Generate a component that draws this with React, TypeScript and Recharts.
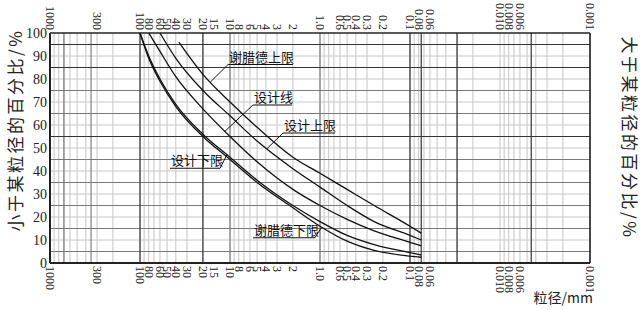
import React from 'react';
import { LineChart, Line, XAxis, YAxis, ReferenceLine, ReferenceDot } from 'recharts';

// grain size ticks (mm), top and bottom axes
const SIZE_TICKS = [1000, 300, 100, 80, 60, 50, 40, 30, 20, 15, 10, 8, 6, 5, 4, 3, 2, 1, 0.6, 0.5, 0.4, 0.3, 0.2, 0.1, 0.08, 0.06, 0.01, 0.008, 0.006, 0.001];
const SIZE_LABELS = ['1000', '300', '100', '80', '60', '50', '40', '30', '20', '15', '10', '8', '6', '5', '4', '3', '2', '1.0', '0.6', '0.5', '0.4', '0.3', '0.2', '0.1', '0.08', '0.06', '0.010', '0.008', '0.006', '0.001'];
const PCT_TICKS = [0, 10, 20, 30, 40, 50, 60, 70, 80, 90, 100];

// grading curves: sieve size (mm) / percent passing
const SHERARD_UPPER_SIZE = [37, 20, 10, 5, 2, 1, 0.5, 0.25, 0.1, 0.075];
const SHERARD_UPPER_PCT = [96, 82, 70, 59, 46, 39, 32, 25, 16, 13];
const DESIGN_UPPER_SIZE = [60, 40, 20, 10, 5, 2, 1, 0.5, 0.25, 0.1, 0.075];
const DESIGN_UPPER_PCT = [100, 89, 75, 64, 53, 41, 33, 25, 18, 12, 10];
const DESIGN_SIZE = [80, 60, 40, 20, 10, 5, 2, 1, 0.5, 0.25, 0.1, 0.075];
const DESIGN_PCT = [100, 92, 81, 67, 55, 44, 32, 25, 19, 14, 9, 7.5];
const DESIGN_LOWER_SIZE = [100, 80, 60, 40, 20, 10, 5, 2, 1, 0.5, 0.25, 0.1, 0.075];
const DESIGN_LOWER_PCT = [100, 90, 80, 69, 56, 46, 36, 25, 18, 12, 8, 4.5, 3.5];
const SHERARD_LOWER_SIZE = [100, 80, 60, 40, 20, 10, 5, 2, 1, 0.5, 0.25, 0.1, 0.075];
const SHERARD_LOWER_PCT = [100, 89, 79, 68, 55, 45, 35, 24, 16, 9.5, 5.5, 3, 2.5];

// callouts: underline (size from -> to at pct), leader to a point on the curve
const NOTE_TEXT = ['谢腊德上限', '设计线', '设计上限', '设计下限', '谢腊德下限'];
const NOTE_FROM = [10.5, 5.55, 2.58, 46.4, 5.55];
const NOTE_TO = [2.0, 2.05, 0.68, 12.9, 1.137];
const NOTE_PCT = [86.3, 68.7, 56.5, 41.2, 11.0];
const NOTE_LEADER_AT_END = [false, false, false, true, true];
const LEADER_SIZE = [16.5, 11.37, 3.88, 10.8, 0.957];
const LEADER_PCT = [78.7, 57.3, 49.7, 47.1, 15.6];

// grid
const DECADES = [100, 10, 1, 0.1, 0.01, 0.001];
const MULTS = [1, 2, 3, 4, 5, 6, 7, 8, 9];
const V_MINOR = DECADES.flatMap((d) => MULTS.map((m) => +(d * m).toPrecision(3))).filter((v) => v <= 1000);
const V_MID = [700, 350, 10, 1];
const V_DARK = [100, 20, 0.1, 0.075, 0.03, 0.0045];
const H_LIGHT = [10, 20, 30, 40, 50, 60, 70, 80, 90];
const H_MID = [5, 15, 25, 35, 45, 65, 75];
const H_DARK = [55, 85, 95];

const W = 642;
const H = 310;
const LEFT = 50;
const RIGHT = 590;
const TOP = 33;
const BOTTOM = 263;
const AX = 20; // room given to each axis
const SERIF = '"Liberation Serif", "Noto Sans CJK SC", serif';
const CJK = '"Noto Sans CJK SC", "Liberation Serif", serif';

const rows = (s: number[], p: number[]) => s.map((d, i) => ({ d, p: p[i] }));

const CURVES = [
  rows(SHERARD_UPPER_SIZE, SHERARD_UPPER_PCT),
  rows(DESIGN_UPPER_SIZE, DESIGN_UPPER_PCT),
  rows(DESIGN_SIZE, DESIGN_PCT),
  rows(DESIGN_LOWER_SIZE, DESIGN_LOWER_PCT),
  rows(SHERARD_LOWER_SIZE, SHERARD_LOWER_PCT),
];

const sizeLabel = (v: number) => {
  const i = SIZE_TICKS.findIndex((t) => Math.abs(t - v) < t * 1e-6);
  return i >= 0 ? SIZE_LABELS[i] : String(v);
};

const renderTopTick = (p: any) => (
  <text key={`tt${p.index}`} transform={`translate(${p.x},${TOP - 3}) rotate(90)`} textAnchor="end" dominantBaseline="central"
    fontFamily={SERIF} fontSize={12} fill="#222">{sizeLabel(p.payload.value)}</text>
);
const renderBottomTick = (p: any) => (
  <text key={`bt${p.index}`} transform={`translate(${p.x},${BOTTOM + 3}) rotate(90)`} textAnchor="start" dominantBaseline="central"
    fontFamily={SERIF} fontSize={12} fill="#222">{sizeLabel(p.payload.value)}</text>
);
const renderLeftTick = (p: any) => (
  <text key={`lt${p.index}`} x={LEFT - 3} y={p.y} textAnchor="end" dominantBaseline="central" fontFamily={SERIF} fontSize={14} fill="#222">{p.payload.value}</text>
);
const renderRightTick = (p: any) => (
  <text key={`rt${p.index}`} x={RIGHT + 3} y={p.y} textAnchor="start" dominantBaseline="central" fontFamily={SERIF} fontSize={14} fill="#222">{p.payload.value}</text>
);

const ids = { xAxisId: 'b', yAxisId: 'l' };

export default function App() {
  return (
    <div style={{ position: 'absolute', left: 0, top: 0, width: W, height: H, background: '#fff' }}>
      <LineChart width={W} height={H}
        margin={{ top: TOP - AX, right: W - RIGHT - AX, bottom: H - BOTTOM - AX, left: LEFT - AX }}>
        <XAxis xAxisId="b" dataKey="d" type="number" scale="log" domain={[0.001, 1000]} reversed allowDataOverflow
          ticks={SIZE_TICKS} interval={0} height={AX} axisLine={false} tickLine={false} tick={renderBottomTick} />
        <XAxis xAxisId="t" orientation="top" dataKey="d" type="number" scale="log" domain={[0.001, 1000]} reversed allowDataOverflow
          ticks={SIZE_TICKS} interval={0} height={AX} axisLine={false} tickLine={false} tick={renderTopTick} />
        <YAxis yAxisId="l" type="number" domain={[0, 100]} ticks={PCT_TICKS} interval={0} width={AX}
          axisLine={false} tickLine={false} tick={renderLeftTick} />
        <YAxis yAxisId="r" orientation="right" type="number" domain={[0, 100]} reversed ticks={PCT_TICKS} interval={0} width={AX}
          axisLine={false} tickLine={false} tick={renderRightTick} />

        {V_MINOR.map((v) => <ReferenceLine key={`vm${v}`} {...ids} x={v} stroke="#c4c4c4" strokeWidth={1} />)}
        {H_LIGHT.map((v) => <ReferenceLine key={`hl${v}`} {...ids} y={v} stroke="#c8c8c8" strokeWidth={1} />)}
        {H_MID.map((v) => <ReferenceLine key={`hm${v}`} {...ids} y={v} stroke="#7a7a7a" strokeWidth={1} />)}
        {V_MID.map((v) => <ReferenceLine key={`vd${v}`} {...ids} x={v} stroke="#6a6a6a" strokeWidth={1} />)}
        {V_DARK.map((v) => <ReferenceLine key={`vk${v}`} {...ids} x={v} stroke="#333" strokeWidth={1.2} />)}
        {H_DARK.map((v) => <ReferenceLine key={`hk${v}`} {...ids} y={v} stroke="#333" strokeWidth={1.2} />)}

        <ReferenceLine {...ids} x={1000} stroke="#222" strokeWidth={2} />
        <ReferenceLine {...ids} x={0.001} stroke="#222" strokeWidth={1.6} />
        <ReferenceLine {...ids} y={0} stroke="#222" strokeWidth={2} />
        <ReferenceLine {...ids} y={100} stroke="#222" strokeWidth={1.6} />

        {CURVES.map((c, i) => (
          <Line key={`c${i}`} {...ids} data={c} dataKey="p" type="monotone" stroke="#111" strokeWidth={1.3}
            dot={false} activeDot={false} isAnimationActive={false} />
        ))}

        {NOTE_TEXT.map((t, i) => (
          <ReferenceLine key={`u${i}`} {...ids} segment={[{ x: NOTE_FROM[i], y: NOTE_PCT[i] }, { x: NOTE_TO[i], y: NOTE_PCT[i] }]}
            stroke="#111" strokeWidth={1.1} />
        ))}
        {NOTE_TEXT.map((t, i) => (
          <ReferenceLine key={`l${i}`} {...ids}
            segment={[{ x: NOTE_LEADER_AT_END[i] ? NOTE_TO[i] : NOTE_FROM[i], y: NOTE_PCT[i] }, { x: LEADER_SIZE[i], y: LEADER_PCT[i] }]}
            stroke="#111" strokeWidth={1} />
        ))}
        {NOTE_TEXT.map((t, i) => (
          <ReferenceDot key={`t${i}`} {...ids} x={NOTE_FROM[i]} y={NOTE_PCT[i]} r={0}
            shape={(p: any) => (
              <text x={p.cx + 1} y={p.cy - 3} fontFamily={CJK} fontSize={13} fill="#111">{t}</text>
            )} />
        ))}
      </LineChart>
      <svg width={W} height={H} style={{ position: 'absolute', left: 0, top: 0, pointerEvents: 'none' }}>
        <text transform="translate(14,130) rotate(-90)" textAnchor="middle" dominantBaseline="central"
          fontFamily={CJK} fontSize={17} letterSpacing={2.5} fill="#222">小于某粒径的百分比/%</text>
        <text transform="translate(630,138) rotate(90)" textAnchor="middle" dominantBaseline="central"
          fontFamily={CJK} fontSize={17} letterSpacing={2.5} fill="#222">大于某粒径的百分比/%</text>
        <text x={593} y={303} textAnchor="end" fontFamily={CJK} fontSize={14} fill="#222">粒径/mm</text>
      </svg>
    </div>
  );
}
